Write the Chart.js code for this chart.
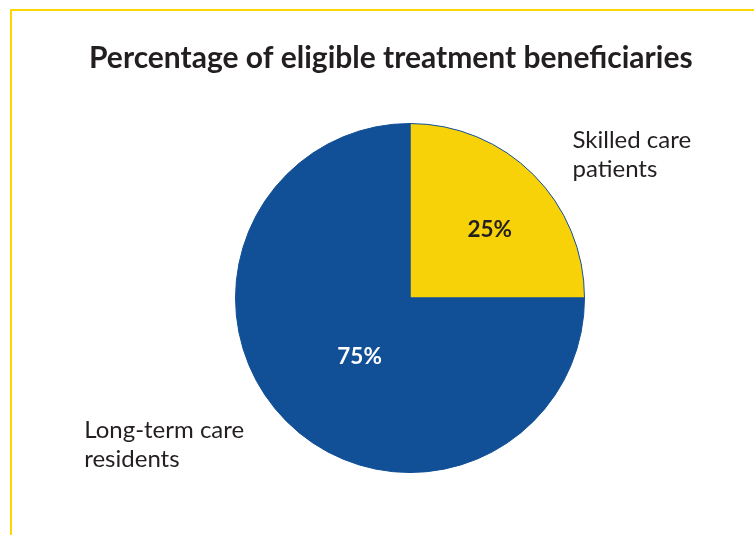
<!DOCTYPE html>
<html lang="en">
<head>
    <meta charset="UTF-8">
    <title>Percentage of eligible treatment beneficiaries</title>
    <script src="https://cdn.jsdelivr.net/npm/chart.js"></script>
    <style>
        body, html {
            margin: 0;
            padding: 0;
            background: #fff;
            overflow: hidden;
        }

        .frame {
            position: absolute;
            left: 10px;
            top: 9px;
            width: 800px;
            height: 600px;
            border-left: 2px solid #fdd800;
            border-top: 2px solid #fdd800;
        }
    </style>
</head>
<body>

    <div class="frame">
        <canvas id="pieChart" width="756" height="524"></canvas>
    </div>

    <script>
        var categories = [['Skilled care', 'patients'], ['Long-term care', 'residents']];
        var shares = [25, 75];
        var sliceColors = ['#f8d208', '#114f97'];
        var valueColors = ['#231f20', '#ffffff'];

        // where each label goes, in units of the pie radius from its centre
        var valueSpots = [[0.457, -0.391], [-0.289, 0.337]];
        var nameSpots = [[0.931, -0.861], [-1.867, 0.802]];

        var textFont = 'Lato, "Open Sans", sans-serif';

        // percentages inside the slices and category names outside them
        var sliceLabels = {
            id: 'sliceLabels',
            afterDatasetsDraw: function (chart) {
                var ctx = chart.ctx;
                var arc = chart.getDatasetMeta(0).data[0];
                var cx = arc.x, cy = arc.y, r = arc.outerRadius;

                ctx.save();
                shares.forEach(function (v, i) {
                    ctx.font = 'bold 22.5px ' + textFont;
                    ctx.fillStyle = valueColors[i];
                    ctx.textAlign = 'center';
                    ctx.textBaseline = 'middle';
                    ctx.fillText(v + '%', cx + valueSpots[i][0] * r, cy + valueSpots[i][1] * r);

                    ctx.font = '24px ' + textFont;
                    ctx.fillStyle = '#231f20';
                    ctx.textAlign = 'left';
                    ctx.textBaseline = 'alphabetic';
                    categories[i].forEach(function (line, k) {
                        ctx.fillText(line, cx + nameSpots[i][0] * r, cy + nameSpots[i][1] * r + k * 29);
                    });
                });
                ctx.restore();
            }
        };

        new Chart(document.getElementById('pieChart'), {
            type: 'pie',
            data: {
                labels: categories.map(function (c) { return c.join(' '); }),
                datasets: [{
                    data: shares,
                    backgroundColor: sliceColors,
                    borderColor: '#114f97',
                    borderWidth: 1
                }]
            },
            options: {
                responsive: false,
                animation: false,
                layout: {
                    padding: { left: 77, right: 37, top: 0, bottom: 62 }
                },
                plugins: {
                    legend: { display: false },
                    tooltip: { enabled: false },
                    title: {
                        display: true,
                        align: 'start',
                        text: 'Percentage of eligible treatment beneficiaries',
                        color: '#231f20',
                        font: { family: textFont, size: 30, weight: 'bold' },
                        padding: { top: 29.5, bottom: 46.5 }
                    }
                }
            },
            plugins: [sliceLabels]
        });
    </script>
</body>
</html>
